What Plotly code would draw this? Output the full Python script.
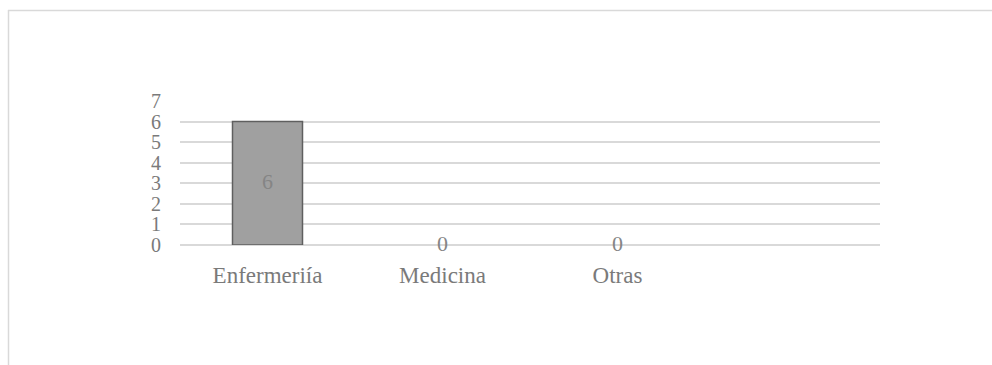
import plotly.graph_objects as go

categories = ["Enfermeriía", "Medicina", "Otras"]
values = [6, 0, 0]
y_ticks = [0, 1, 2, 3, 4, 5, 6, 7]

W, H = 992, 365
L, R, T, B = 180, 112, 101, 120
pw, ph = W - L - R, H - T - B

def px_x(p):
    return (p - L) / pw

def px_y(p):
    return (H - B - p) / ph

font_family = "Liberation Serif, Times New Roman, serif"
txt_col = "#7a7a7a"

fig = go.Figure()
fig.add_trace(go.Bar(
    x=categories, y=values, width=0.4,
    marker=dict(color="#a0a0a0",
                line=dict(color="#5f5f5f",
                          width=[1.5 if v > 0 else 0 for v in values])),
    hoverinfo="skip", showlegend=False,
))
fig.add_trace(go.Scatter(
    x=categories, y=[v / 2 for v in values], mode="text",
    text=[str(v) for v in values], cliponaxis=False,
    textfont=dict(family=font_family, size=22, color="#858585"),
    hoverinfo="skip", showlegend=False,
))

fig.update_layout(
    width=W, height=H,
    margin=dict(l=L, r=R, t=T, b=B),
    paper_bgcolor="white", plot_bgcolor="white",
    font=dict(family=font_family, size=20, color=txt_col),
    xaxis=dict(range=[-0.5, 3.5], showgrid=False, showline=False,
               zeroline=False, ticks="", ticklabelstandoff=14,
               tickfont=dict(size=23, color=txt_col)),
    yaxis=dict(range=[0, 7], tickvals=y_ticks, showgrid=True,
               gridcolor="#d9d9d9", gridwidth=1.5, zeroline=True,
               zerolinecolor="#d9d9d9", zerolinewidth=1.5,
               showline=False, ticks="", ticklabelstandoff=18,
               tickfont=dict(size=20, color=txt_col)),
    shapes=[
        dict(type="line", xref="paper", yref="paper",
             x0=px_x(8), x1=px_x(992), y0=px_y(10.5), y1=px_y(10.5),
             line=dict(color="#d9d9d9", width=1.5)),
        dict(type="line", xref="paper", yref="paper",
             x0=px_x(8.5), x1=px_x(8.5), y0=px_y(10), y1=px_y(365),
             line=dict(color="#d9d9d9", width=1.5)),
    ],
)

fig.write_html("out.html")
